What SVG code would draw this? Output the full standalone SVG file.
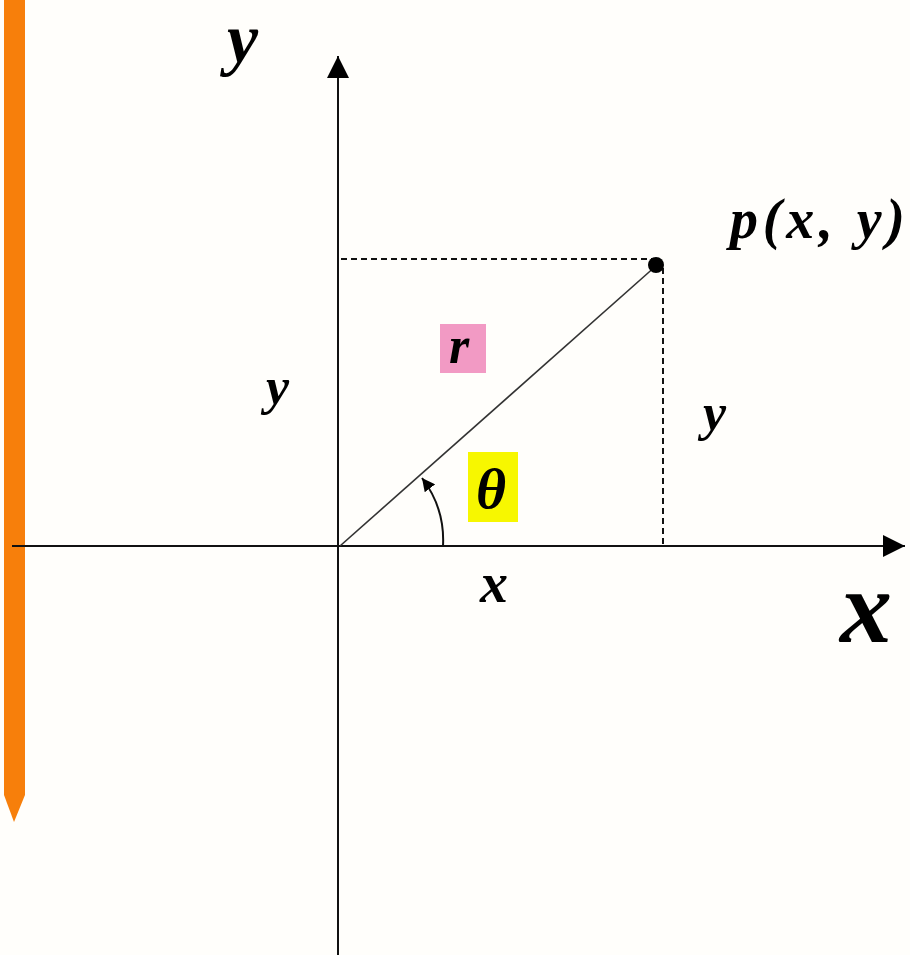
<svg xmlns="http://www.w3.org/2000/svg" width="910" height="955" viewBox="0 0 910 955">
<style>
.lbl{font-family:"Liberation Serif","Times New Roman",serif;font-style:italic;font-weight:bold;fill:#000}
.axis{stroke:#111;stroke-width:2;fill:none}
.dash{stroke:#111;stroke-width:2;stroke-dasharray:6 4;fill:none}
</style>
<defs>
<marker id="ah" viewBox="0 0 10 10" refX="10" refY="5" markerWidth="13" markerHeight="13" markerUnits="userSpaceOnUse" orient="auto">
<path d="M0,0 L10,5 L0,10 z" fill="#000"/>
</marker>
<marker id="big" viewBox="0 0 22 22" refX="22" refY="11" markerWidth="22" markerHeight="22" markerUnits="userSpaceOnUse" orient="auto">
<path d="M0,0 L22,11 L0,22 z" fill="#000"/>
</marker>
</defs>
<rect width="910" height="955" fill="#fffefb"/>
<g id="bar">
<path d="M4,0 L25,0 L25,795 L14,822 L4,795 z" fill="#f77f0b"/>
</g>
<g id="connectors">
<line class="axis" x1="338" y1="955" x2="338" y2="56" marker-end="url(#big)"/>
<line class="axis" x1="12" y1="546" x2="905" y2="546" marker-end="url(#big)"/>
<line class="dash" x1="341" y1="259" x2="652" y2="259"/>
<line class="dash" x1="663" y1="268" x2="663" y2="544"/>
<line x1="340" y1="546" x2="657" y2="265" stroke="#333" stroke-width="1.6"/>
<path d="M443,546 A103,103 0 0 0 422,478" fill="none" stroke="#111" stroke-width="2" marker-end="url(#ah)"/>
</g>
<g id="point">
<circle cx="656" cy="265" r="8" fill="#000"/>
<text class="lbl" x="730" y="238" font-size="56" textLength="175" lengthAdjust="spacing">p(x, y)</text>
</g>
<g id="ylabel-top"><text class="lbl" x="227" y="62" font-size="70">y</text></g>
<g id="ylabel-left"><text class="lbl" x="266" y="404" font-size="52">y</text></g>
<g id="ylabel-right"><text class="lbl" x="703" y="430" font-size="52">y</text></g>
<g id="xlabel"><text class="lbl" x="480" y="602" font-size="56">x</text></g>
<g id="xaxis-label"><text class="lbl" x="840" y="642" font-size="104">x</text></g>
<g id="r">
<rect x="440" y="324" width="46" height="49" fill="#f29ac4"/>
<text class="lbl" x="449" y="363" font-size="52">r</text>
</g>
<g id="theta">
<rect x="468" y="452" width="50" height="70" fill="#f7f700"/>
<text class="lbl" x="476" y="508" font-size="58">θ</text>
</g>
</svg>
